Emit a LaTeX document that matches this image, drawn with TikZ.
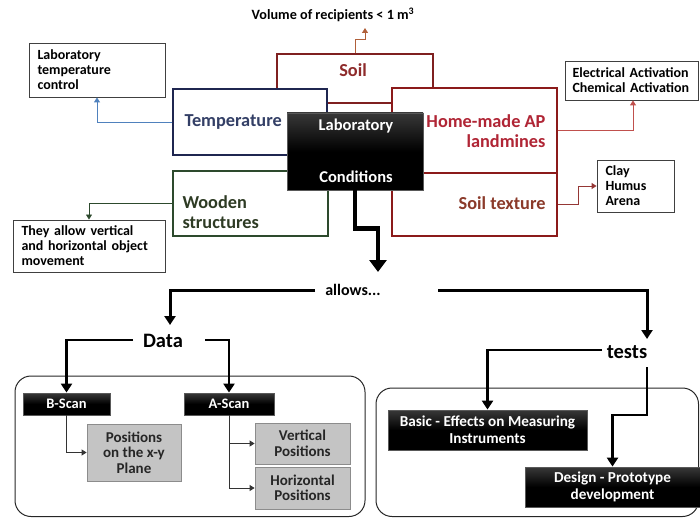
\documentclass[tikz,border=0pt]{standalone}
\usepackage{fontspec}
\setmainfont{Carlito}
\usetikzlibrary{arrows.meta}
\definecolor{navy}{HTML}{1F2650}
\definecolor{navytext}{HTML}{333F66}
\definecolor{woodgreen}{HTML}{2D4A2D}
\definecolor{woodtext}{HTML}{2E3B24}
\definecolor{soilred}{HTML}{7F2020}
\definecolor{soiltext}{HTML}{8E2B2B}
\definecolor{homered}{HTML}{8B1A1A}
\definecolor{hometext}{HTML}{B02535}
\definecolor{textext}{HTML}{8B3A2A}
\definecolor{bluearrow}{HTML}{4F81BD}
\definecolor{redarrow}{HTML}{C0504D}
\definecolor{clayarrow}{HTML}{953735}
\definecolor{volarrow}{HTML}{B0603A}
\definecolor{grayfill}{HTML}{C4C4C4}
\begin{document}
\begin{tikzpicture}[x=1pt,y=-1pt,
  big/.style={font=\fontsize{18.3}{19.5}\selectfont\bfseries},
  small/.style={font=\fontsize{14}{15}\selectfont\bfseries},
  tiny/.style={font=\fontsize{15}{15.5}\selectfont\bfseries},
  framebox/.style={draw, fill=white, line width=1.4pt, inner sep=0pt},
  notebox/.style={draw=black!75, fill=white, line width=0.9pt, small, align=left, inner sep=0pt},
  darkbox/.style={draw=black!65, line width=0.8pt, top color=black!78, bottom color=black, middle color=black, text=white, inner sep=0pt, align=center},
  greybox/.style={draw=black!45, line width=0.8pt, fill=grayfill, text=black!85, tiny, align=center, inner sep=0pt},
  roundbox/.style={draw=black!85, line width=1pt, rounded corners=16pt},
  thinarrow/.style={line width=0.9pt, -{Triangle[width=6pt,length=5pt]}},
  midarrow/.style={line width=2.6pt, -{Triangle[width=11pt,length=9pt]}},
  bigarrow/.style={line width=4.5pt, -{Triangle[width=17pt,length=12pt]}},
]
\useasboundingbox (0,0) rectangle (700,518);

% ---- top text
\node[font=\fontsize{14.2}{15}\selectfont\bfseries] (vol) at (333,15) {Volume of recipients < 1 m\textsuperscript{3}};
\coordinate (volpt) at (365,28);

% ---- soil box (behind)
\node[framebox, draw=soilred, minimum width=156pt, minimum height=49pt] (soil) at (355,78.5) {};
\node[big, text=soiltext] (soiltxt) at (353,70) {Soil};

% ---- temperature
\node[framebox, draw=navy, minimum width=154pt, minimum height=66pt] (temp) at (250,122) {};
\node[big, text=navytext, anchor=west] (temptxt) at (181,122) {Temperature};

% ---- wooden
\node[framebox, draw=woodgreen, minimum width=155pt, minimum height=65pt] (wood) at (250.5,203.5) {};
\node[big, text=woodtext, anchor=west, align=left] (woodtxt) at (179,212) {Wooden\\structures};

% ---- home-made
\node[framebox, draw=homered, minimum width=165pt, minimum height=85pt] (home) at (474.5,130.5) {};
\node[big, text=hometext, anchor=east, align=right] (hometxt) at (549,131) {Home-made AP\\landmines};

% ---- soil texture
\node[framebox, draw=homered, minimum width=165pt, minimum height=63pt] (soiltex) at (474.5,204.5) {};
\node[big, text=textext, anchor=east] (soiltextxt) at (549,203) {Soil texture};

% ---- laboratory conditions
\node[darkbox, minimum width=136pt, minimum height=77pt] (lab) at (355,151.5) {};
\node[font=\fontsize{16.5}{18}\selectfont\bfseries, text=white] (labA) at (356,126) {Laboratory};
\node[font=\fontsize{16.5}{18}\selectfont\bfseries, text=white] (labB) at (356,177) {Conditions};

% ---- notes
\node[notebox, minimum width=136pt, minimum height=54pt, text width=119pt] (labtemp) at (97,70) {Laboratory\\temperature\\control};
\node[notebox, minimum width=133pt, minimum height=39pt, text width=119pt] (elec) at (632,80.5) {Electrical Activation\\Chemical Activation};
\node[notebox, minimum width=77pt, minimum height=52pt, text width=60pt] (clay) at (635.5,186) {Clay\\Humus\\Arena};
\node[notebox, minimum width=152pt, minimum height=52pt, text width=135pt] (they) at (89,246) {They allow vertical\\and horizontal object\\movement};

% ---- small connectors
\draw[thinarrow, bluearrow] (temp.west) -| (labtemp.south);
\draw[thinarrow, woodgreen] (wood.west) -| (they.north);
\draw[thinarrow, redarrow] (home.east) -| ([xshift=1pt]elec.south);
\draw[thinarrow, clayarrow] (soiltex.east) -- ++(21,0) |- (clay.west);
\draw[thinarrow, volarrow] (soil.north) |- ++(10,-14) -- (volpt);

% ---- main flow
\coordinate (m1) at (378,272);
\draw[bigarrow, line cap=butt] (lab.south) -- ++(0,38) -| (m1);

\node[font=\fontsize{16}{18}\selectfont\bfseries] (allows) at (353,290) {allows...};
\coordinate (al) at (315,290);
\coordinate (ar) at (438,290);
\coordinate (dtop) at (170,325);
\coordinate (ttop) at (647,339);
\draw[midarrow, line width=3pt] (al) -| (dtop);
\draw[midarrow, line width=3pt] (ar) -| (ttop);

\node[font=\fontsize{20.5}{22}\selectfont\bfseries] (data) at (163,341) {Data};
\node[font=\fontsize{20.5}{22}\selectfont\bfseries] (tests) at (627,352) {tests};

% ---- rounded frames
\draw[roundbox] (15,376) rectangle (365,516.5);
\draw[roundbox] (376,388) rectangle (698.5,516.5);

% ---- left group
\node[darkbox, font=\fontsize{14.5}{15}\selectfont\bfseries, minimum width=87pt, minimum height=22pt] (bscan) at (66.5,404) {B-Scan};
\node[darkbox, font=\fontsize{14.5}{15}\selectfont\bfseries, minimum width=90pt, minimum height=22pt] (ascan) at (229,404) {A-Scan};
\node[greybox, minimum width=94pt, minimum height=57pt] (pos) at (134,452.5) {Positions\\on the x-y\\Plane};
\node[greybox, minimum width=95pt, minimum height=41pt] (vert) at (302.5,443.5) {Vertical\\Positions};
\node[greybox, minimum width=95pt, minimum height=42pt] (horiz) at (302.5,488) {Horizontal\\Positions};

\coordinate (dl) at (133,340);
\coordinate (dr) at (205,340);
\draw[midarrow] (dl) -| (bscan.north);
\draw[midarrow] (dr) -| (ascan.north);
\draw[thinarrow, black!80] (bscan.south) |- (pos.west);
\draw[thinarrow, black!80] (ascan.south) |- (vert.west);
\draw[thinarrow, black!80] (ascan.south) |- (horiz.west);

% ---- right group
\node[darkbox, font=\fontsize{15.2}{17}\selectfont\bfseries, minimum width=199pt, minimum height=40pt] (basic) at (487.5,430) {Basic - Effects on Measuring\\Instruments};
\node[darkbox, font=\fontsize{15.2}{17}\selectfont\bfseries, minimum width=175pt, minimum height=40pt] (design) at (612.5,487) {Design - Prototype\\development};

\coordinate (tl) at (602,350);
\coordinate (tb) at (647,367);
\draw[midarrow] (tl) -| (basic.north);
\draw[midarrow] (tb) -- ++(0,48) -| (design.north);
\end{tikzpicture}
\end{document}
